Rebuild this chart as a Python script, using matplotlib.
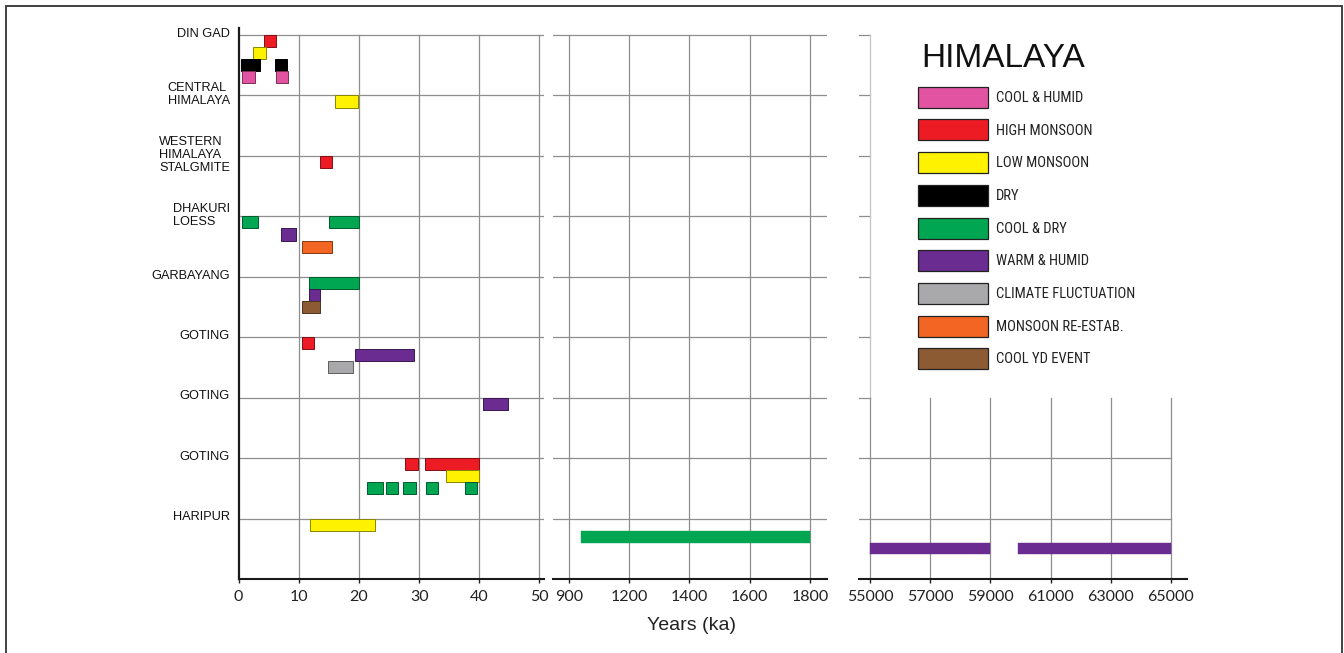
import numpy as np
import matplotlib
matplotlib.use("Agg")
import matplotlib.pyplot as plt
from matplotlib.patches import Patch, Rectangle
from matplotlib import font_manager as fm
from matplotlib import colors as mcolors

# ---------------- data ----------------
SITES = ["DIN GAD", "CENTRAL\nHIMALAYA", "WESTERN\nHIMALAYA\nSTALGMITE",
         "DHAKURI\nLOESS", "GARBAYANG", "GOTING", "GOTING", "GOTING", "HARIPUR"]

CATEGORIES = ["COOL & HUMID", "HIGH MONSOON", "LOW MONSOON", "DRY", "COOL & DRY",
              "WARM & HUMID", "CLIMATE FLUCTUATION", "MONSOON RE-ESTAB.", "COOL YD EVENT"]
CAT_COLORS = ["#e254a2", "#ed1c24", "#fff200", "#000000", "#00a651",
              "#6a2c91", "#a9a9ab", "#f26522", "#8c5b33"]

# panel 1 (0-50 ka): site index, lane, start, end, category
P1_SITE = [0, 0, 0, 0, 0, 0, 1, 2, 3, 3, 3, 3, 4, 4, 4, 5, 5, 5, 6,
           7, 7, 7, 7, 7, 7, 7, 7, 8]
P1_LANE = [0, 1, 2, 2, 3, 3, 0, 0, 0, 0, 1, 2, 0, 1, 2, 0, 1, 2, 0,
           0, 0, 1, 2, 2, 2, 2, 2, 0]
P1_START = [4.2, 2.4, 0.4, 6.0, 0.5, 6.2, 16.0, 13.5, 0.5, 15.1, 7.0, 10.5,
            11.7, 11.7, 10.5, 10.5, 19.3, 14.8, 40.6,
            27.6, 31.0, 34.5, 21.4, 24.5, 27.4, 31.2, 37.6, 11.8]
P1_END = [6.3, 4.6, 3.5, 8.0, 2.7, 8.2, 19.9, 15.6, 3.3, 20.0, 9.5, 15.5,
          20.0, 13.5, 13.6, 12.5, 29.1, 19.1, 44.7,
          29.8, 40.0, 39.9, 24.0, 26.5, 29.5, 33.2, 39.6, 22.7]
P1_CAT = ["HIGH MONSOON", "LOW MONSOON", "DRY", "DRY", "COOL & HUMID", "COOL & HUMID",
          "LOW MONSOON", "HIGH MONSOON",
          "COOL & DRY", "COOL & DRY", "WARM & HUMID", "MONSOON RE-ESTAB.",
          "COOL & DRY", "WARM & HUMID", "COOL YD EVENT",
          "HIGH MONSOON", "WARM & HUMID", "CLIMATE FLUCTUATION",
          "WARM & HUMID",
          "HIGH MONSOON", "HIGH MONSOON", "LOW MONSOON",
          "COOL & DRY", "COOL & DRY", "COOL & DRY", "COOL & DRY", "COOL & DRY",
          "LOW MONSOON"]

# panel 2 (900-1800 ka)
P2_SITE = [8]
P2_LANE = [1]
P2_START = [960]
P2_END = [1800]
P2_CAT = ["COOL & DRY"]

# panel 3 (55000-65000 ka)
P3_SITE = [8, 8]
P3_LANE = [2, 2]
P3_START = [55000, 59900]
P3_END = [59000, 65000]
P3_CAT = ["WARM & HUMID", "WARM & HUMID"]

P1_TICKS = [0, 10, 20, 30, 40, 50]
P2_TICKS = [900, 1200, 1400, 1600, 1800]
P3_TICKS = [55000, 57000, 59000, 61000, 63000, 65000]

XLABEL = "Years (ka)"
LEGEND_TITLE = "HIMALAYA"

# ---------------- styling ----------------
W, H = 1344, 653
DPI = 100
LANE_H = 0.2
GRID_C = "#8e8e8e"
GRID_LIGHT = "#c4c4c4"
GRID_LW = 0.9


def has_font(name):
    try:
        fm.findfont(fm.FontProperties(family=name), fallback_to_default=False)
        return True
    except Exception:
        return False


TICK_FONT = "Lato" if has_font("Lato") else "Liberation Sans"
MAIN_FONT = "Liberation Sans" if has_font("Liberation Sans") else "DejaVu Sans"
LEG_FONT, LEG_SIZE = MAIN_FONT, 8.8
for cand in ["Liberation Sans Narrow", "Arial Narrow", "Roboto Condensed",
             "Open Sans Condensed", "Noto Sans Condensed"]:
    if has_font(cand):
        LEG_FONT, LEG_SIZE = cand, 10.5
        break

color_of = dict(zip(CATEGORIES, CAT_COLORS))


def darker(c, f=0.55):
    r, g, b = mcolors.to_rgb(c)
    return (r * f, g * f, b * f)


fig = plt.figure(figsize=(W / DPI, H / DPI), dpi=DPI)
fig.patch.set_facecolor("white")

YTOP = -0.12
YBOT = 9.0
bottom = 1 - 579 / H
top = 1 - (35 + YTOP * 60.44) / H
hgt = top - bottom


def px_ax(l, r):
    return [l / W, bottom, (r - l) / W, hgt]


ax1 = fig.add_axes(px_ax(238.5, 544.3))
ax2 = fig.add_axes(px_ax(553.3, 827.3))
ax3 = fig.add_axes(px_ax(858.5, 1186.7))

# piecewise scale for the middle panel (ticks evenly spaced)
KN_X = [600] + P2_TICKS + [2000]
KN_I = [-1, 0, 1, 2, 3, 4, 5]


def fwd(x):
    return np.interp(x, KN_X, KN_I)


def inv(i):
    return np.interp(i, KN_I, KN_X)


ax2.set_xscale("function", functions=(fwd, inv))

ax1.set_xlim(0, 50.8)
ax2.set_xlim(821.5, 1857.7)
ax3.set_xlim(54607, 65532)

row_frac = (YBOT - 0) / (YBOT - YTOP)       # axes fraction of row 0
row6_frac = (YBOT - 6) / (YBOT - YTOP)

for ax, ticks in [(ax1, P1_TICKS), (ax2, P2_TICKS), (ax3, P3_TICKS)]:
    ax.set_ylim(YBOT, YTOP)
    ax.set_yticks([])
    ax.set_xticks(ticks, labels=[str(t) for t in ticks])
    ax.xaxis.set_minor_locator(matplotlib.ticker.NullLocator())
    ax.tick_params(axis="x", direction="out", length=3.2, width=1.0,
                   color="#222222", pad=5, labelsize=11.5)
    for lab in ax.get_xticklabels():
        lab.set_fontfamily(TICK_FONT)
        lab.set_color("#222222")
    for s in ["top", "right", "left"]:
        ax.spines[s].set_visible(False)
    ax.spines["bottom"].set_linewidth(1.5)
    ax.spines["bottom"].set_color("#1a1a1a")
    ax.set_facecolor("none")

ax1.spines["left"].set_visible(True)
ax1.spines["left"].set_linewidth(1.6)
ax1.spines["left"].set_color("#1a1a1a")

rows = list(range(len(SITES)))

# gridlines panel 1 & 2
for ax, ticks in [(ax1, P1_TICKS), (ax2, P2_TICKS)]:
    for r in rows:
        ax.axhline(r, color=GRID_C, lw=GRID_LW, zorder=1)
    for t in ticks:
        if ax is ax1 and t == 0:
            continue
        ax.axvline(t, ymin=0, ymax=row_frac, color=GRID_C, lw=GRID_LW, zorder=1)

# gridlines panel 3 (upper part occupied by the legend)
x3l, x3r = ax3.get_xlim()
f55 = (P3_TICKS[0] - x3l) / (x3r - x3l)
f65 = (P3_TICKS[-1] - x3l) / (x3r - x3l)
for r in rows:
    if r >= 7:
        ax3.axhline(r, xmin=0, xmax=f65, color=GRID_C, lw=GRID_LW, zorder=1)
    else:
        ax3.axhline(r, xmin=0, xmax=f55, color=GRID_C, lw=GRID_LW, zorder=1)
ax3.axvline(P3_TICKS[0], ymin=row6_frac, ymax=row_frac, color=GRID_LIGHT,
            lw=GRID_LW, zorder=1)
for t in P3_TICKS:
    ax3.axvline(t, ymin=0, ymax=row6_frac, color=GRID_C, lw=GRID_LW, zorder=1)


def draw(ax, sites, lanes, starts, ends, cats, edge=True, h=LANE_H):
    for s, l, a, b, c in zip(sites, lanes, starts, ends, cats):
        fc = color_of[c]
        ec = darker(fc) if edge else fc
        ax.barh(s + l * LANE_H + h / 2, b - a, left=a, height=h,
                color=fc, edgecolor=ec, linewidth=0.7 if edge else 0.3, zorder=3)


draw(ax1, P1_SITE, P1_LANE, P1_START, P1_END, P1_CAT)
draw(ax2, P2_SITE, P2_LANE, P2_START, P2_END, P2_CAT, edge=False)
draw(ax3, P3_SITE, P3_LANE, P3_START, P3_END, P3_CAT, edge=False, h=0.19)

# site labels
ytr = ax1.get_yaxis_transform()
lab_x = (230 - 238.5) / (544.3 - 238.5)
for r, name in zip(rows, SITES):
    ax1.text(lab_x, r - 0.02, name, transform=ytr, ha="right", va="center",
             multialignment="left", fontsize=9.2, family=MAIN_FONT,
             color="#111111", linespacing=1.12)

# x label
fig.text(691.7 / W, 1 - 630 / H, XLABEL, ha="center", va="baseline",
         fontsize=14, family=MAIN_FONT, color="#222222")

# legend (patch height 21 px, row pitch 32.7 px)
em = LEG_SIZE * DPI / 72
PATCH_H = 21.0
hh = (PATCH_H / em - 0.245) / 0.65
handles = [Patch(facecolor=c, edgecolor="#222222", linewidth=0.9, label=l)
           for l, c in zip(CATEGORIES, CAT_COLORS)]
leg = fig.legend(handles=handles, loc="upper left",
                 bbox_to_anchor=(918.3 / W, 1 - 86.7 / H),
                 frameon=False, borderpad=0, borderaxespad=0,
                 handlelength=70 / em, handleheight=hh,
                 labelspacing=(32.7 - PATCH_H) / em, handletextpad=7.4 / em,
                 prop={"family": LEG_FONT, "size": LEG_SIZE})
for t in leg.get_texts():
    t.set_color("#222222")

fig.text(921 / W, 1 - 67 / H, LEGEND_TITLE, ha="left", va="baseline",
         fontsize=24, family=MAIN_FONT, color="#111111")

# outer frame
fig.patches.append(Rectangle((6 / W, -0.02), (1342 - 6) / W, 1 - 6 / H + 0.02,
                             transform=fig.transFigure, fill=False,
                             edgecolor="#333333", linewidth=1.3))

fig.savefig("out.png", dpi=DPI, facecolor="white")
